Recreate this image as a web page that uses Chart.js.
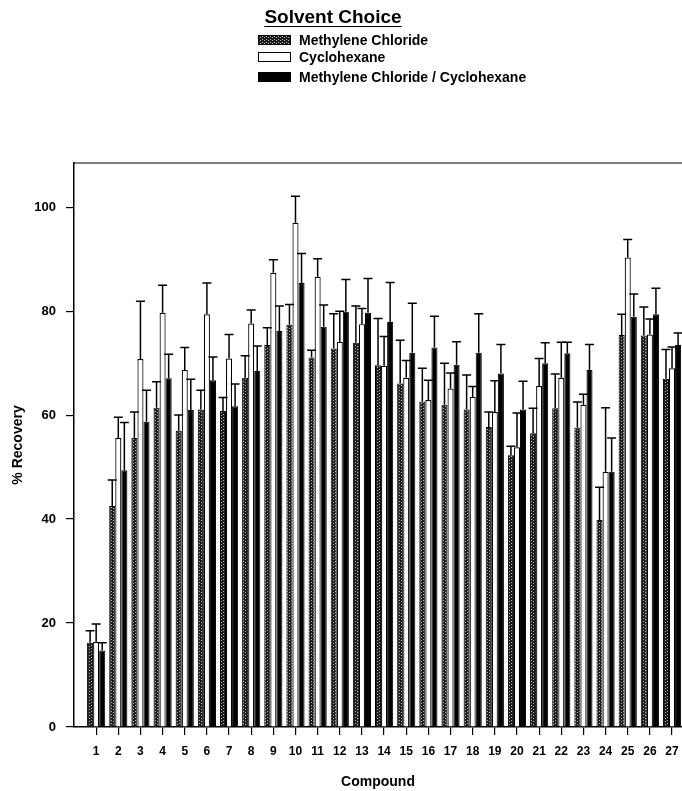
<!DOCTYPE html>
<html>
<head>
<meta charset="utf-8">
<script src="https://cdn.jsdelivr.net/npm/chart.js@4.4.1/dist/chart.umd.min.js"></script>
<style>
  html, body { margin: 0; padding: 0; background: #fff; overflow: hidden; }
  #wrap { position: relative; width: 682px; height: 791px; font-family: "Liberation Sans", Arial, sans-serif; color: #000; }
  #chart { position: absolute; left: 0; top: 0; }
  #title { position: absolute; left: 0; width: 666px; top: 6px; text-align: center; font-size: 19px; font-weight: bold; text-decoration: underline; text-underline-offset: 3px; }
  .leg { position: absolute; left: 258px; font-size: 14px; font-weight: bold; display: flex; align-items: center; }
  .sw { width: 33px; height: 10px; border: 1px solid #000; margin-right: 8px; box-sizing: border-box; }
</style>
</head>
<body>
<div id="wrap">
  <canvas id="chart" width="682" height="791"></canvas>
  <div id="title">Solvent Choice</div>
  <div class="leg" style="top:32px"><div class="sw" id="swMc"></div>Methylene Chloride</div>
  <div class="leg" style="top:49px"><div class="sw" style="background:#fff"></div>Cyclohexane</div>
  <div class="leg" style="top:69px"><div class="sw" style="background:#000"></div>Methylene Chloride / Cyclohexane</div>
</div>
<script>
// --- Data ---
const compounds = [1, 2, 3, 4, 5, 6, 7, 8, 9, 10, 11, 12, 13, 14, 15, 16, 17, 18, 19, 20, 21, 22, 23, 24, 25, 26, 27];

const mcValues = [16.2, 42.5, 55.6, 61.4, 57.0, 61.1, 60.8, 67.2, 73.5, 77.4, 71.1, 72.8, 73.9, 69.6, 66.1, 62.6, 62.0, 61.1, 57.7, 52.3, 56.5, 61.3, 57.6, 39.8, 75.4, 75.3, 67.0];
const mcErrors = [2.3, 5.0, 5.0, 5.0, 3.0, 3.7, 2.6, 4.2, 3.3, 3.9, 1.4, 6.7, 7.1, 9.0, 8.3, 6.4, 8.0, 6.6, 2.9, 1.7, 4.8, 6.6, 4.9, 6.3, 4.0, 5.5, 5.6];

const cyValues = [16.4, 55.6, 70.8, 79.7, 68.7, 79.4, 70.9, 77.6, 87.4, 97.0, 86.6, 74.1, 77.5, 69.5, 67.2, 62.9, 65.1, 63.5, 60.6, 53.8, 65.6, 67.2, 62.0, 49.1, 90.3, 75.5, 69.0];
const cyErrors = [3.4, 4.0, 11.1, 5.3, 4.3, 6.0, 4.6, 2.6, 2.5, 5.1, 3.5, 5.9, 3.0, 5.6, 3.3, 3.8, 3.0, 2.0, 6.0, 6.6, 5.3, 6.8, 2.0, 12.3, 3.5, 3.0, 4.1];

const mixValues = [14.7, 49.4, 58.7, 67.1, 61.0, 66.7, 61.7, 68.5, 76.2, 85.4, 77.0, 79.9, 79.7, 77.9, 72.0, 73.0, 69.7, 72.0, 68.0, 61.1, 70.0, 71.9, 68.7, 49.1, 78.9, 79.4, 73.5];
const mixErrors = [1.5, 9.2, 6.1, 4.6, 5.9, 4.5, 4.3, 4.8, 4.8, 5.7, 4.2, 6.2, 6.6, 7.6, 9.5, 6.0, 4.4, 7.5, 5.6, 5.4, 3.9, 2.1, 4.9, 6.5, 4.4, 5.0, 2.3];

const yTicks = [0, 20, 40, 60, 80, 100];

// --- Stipple fill for the methylene chloride bars ---
function makeStipple() {
  const c = document.createElement("canvas");
  c.width = 4;
  c.height = 3;
  const g = c.getContext("2d");
  g.fillStyle = "#1c1c1c";
  g.fillRect(0, 0, 4, 3);
  g.fillStyle = "#b8b8b8";
  g.fillRect(1, 1, 1, 1);
  g.fillRect(3, 0, 1, 1);
  return c;
}
const stipple = makeStipple();
document.getElementById("swMc").style.background = `url(${stipple.toDataURL()})`;
const ctx = document.getElementById("chart").getContext("2d");
const stipplePattern = ctx.createPattern(stipple, "repeat");

const toPoints = (vals) => vals.map((v, i) => ({ x: compounds[i], y: v }));

// --- Error bars (upper only) and top frame line ---
const errorBars = {
  id: "errorBars",
  afterDatasetsDraw(chart) {
    const g = chart.ctx;
    const y = chart.scales.y;
    g.save();
    g.strokeStyle = "#000";
    g.lineWidth = 1.5;
    chart.data.datasets.forEach((ds, i) => {
      const meta = chart.getDatasetMeta(i);
      meta.data.forEach((bar, j) => {
        const top = y.getPixelForValue(ds.data[j].y + ds.errors[j]);
        g.beginPath();
        g.moveTo(bar.x, bar.y);
        g.lineTo(bar.x, top);
        g.moveTo(bar.x - 4.5, top);
        g.lineTo(bar.x + 4.5, top);
        g.stroke();
      });
    });
    const a = chart.chartArea;
    g.lineWidth = 1.2;
    g.beginPath();
    g.moveTo(a.left, a.top);
    g.lineTo(a.right, a.top);
    g.stroke();
    g.restore();
  }
};

const tickFont = { family: "'Liberation Sans', Arial, sans-serif", weight: "bold", size: 13 };

new Chart(ctx, {
  type: "bar",
  data: {
    datasets: [
      { label: "Methylene Chloride", data: toPoints(mcValues), errors: mcErrors,
        backgroundColor: stipplePattern, borderColor: "#000", borderWidth: 1 },
      { label: "Cyclohexane", data: toPoints(cyValues), errors: cyErrors,
        backgroundColor: "#fff", borderColor: "#000", borderWidth: 1.2 },
      { label: "Methylene Chloride / Cyclohexane", data: toPoints(mixValues), errors: mixErrors,
        backgroundColor: "#000", borderColor: "#000", borderWidth: 1 }
    ]
  },
  options: {
    responsive: false,
    animation: false,
    devicePixelRatio: 1,
    layout: { padding: { top: 163, left: 0, right: 0, bottom: 0 } },
    datasets: { bar: { categoryPercentage: 0.82, barPercentage: 1.0 } },
    plugins: { legend: { display: false }, tooltip: { enabled: false } },
    scales: {
      x: {
        type: "linear",
        offset: false,
        min: 0,
        max: 27.45,
        afterBuildTicks: (s) => { s.ticks = compounds.map((v) => ({ value: v })); },
        afterFit: (s) => { s.height = 64; s.paddingLeft = 0; s.paddingRight = 0; },
        grid: { offset: false, drawOnChartArea: false, drawTicks: true, tickLength: 8, color: "#000", lineWidth: 1.2 },
        border: { display: true, color: "#000", width: 1.5 },
        ticks: { color: "#000", font: { ...tickFont, size: 12 }, padding: 9, autoSkip: false, maxRotation: 0 },
        title: { display: true, text: "Compound", color: "#000", font: { ...tickFont, size: 14 }, padding: { top: 0, bottom: 0 } }
      },
      y: {
        min: 0,
        max: 108.5,
        afterBuildTicks: (s) => { s.ticks = yTicks.map((v) => ({ value: v })); },
        afterFit: (s) => { s.width = 74; },
        grid: { drawOnChartArea: false, drawTicks: true, tickLength: 8, color: "#000", lineWidth: 1.2 },
        border: { display: true, color: "#000", width: 1.5 },
        ticks: { color: "#000", font: tickFont, padding: 10 },
        title: { display: true, text: "% Recovery", color: "#000", font: { ...tickFont, size: 14 }, padding: { top: 10, bottom: 0 } }
      }
    }
  },
  plugins: [errorBars]
});
</script>
</body>
</html>
